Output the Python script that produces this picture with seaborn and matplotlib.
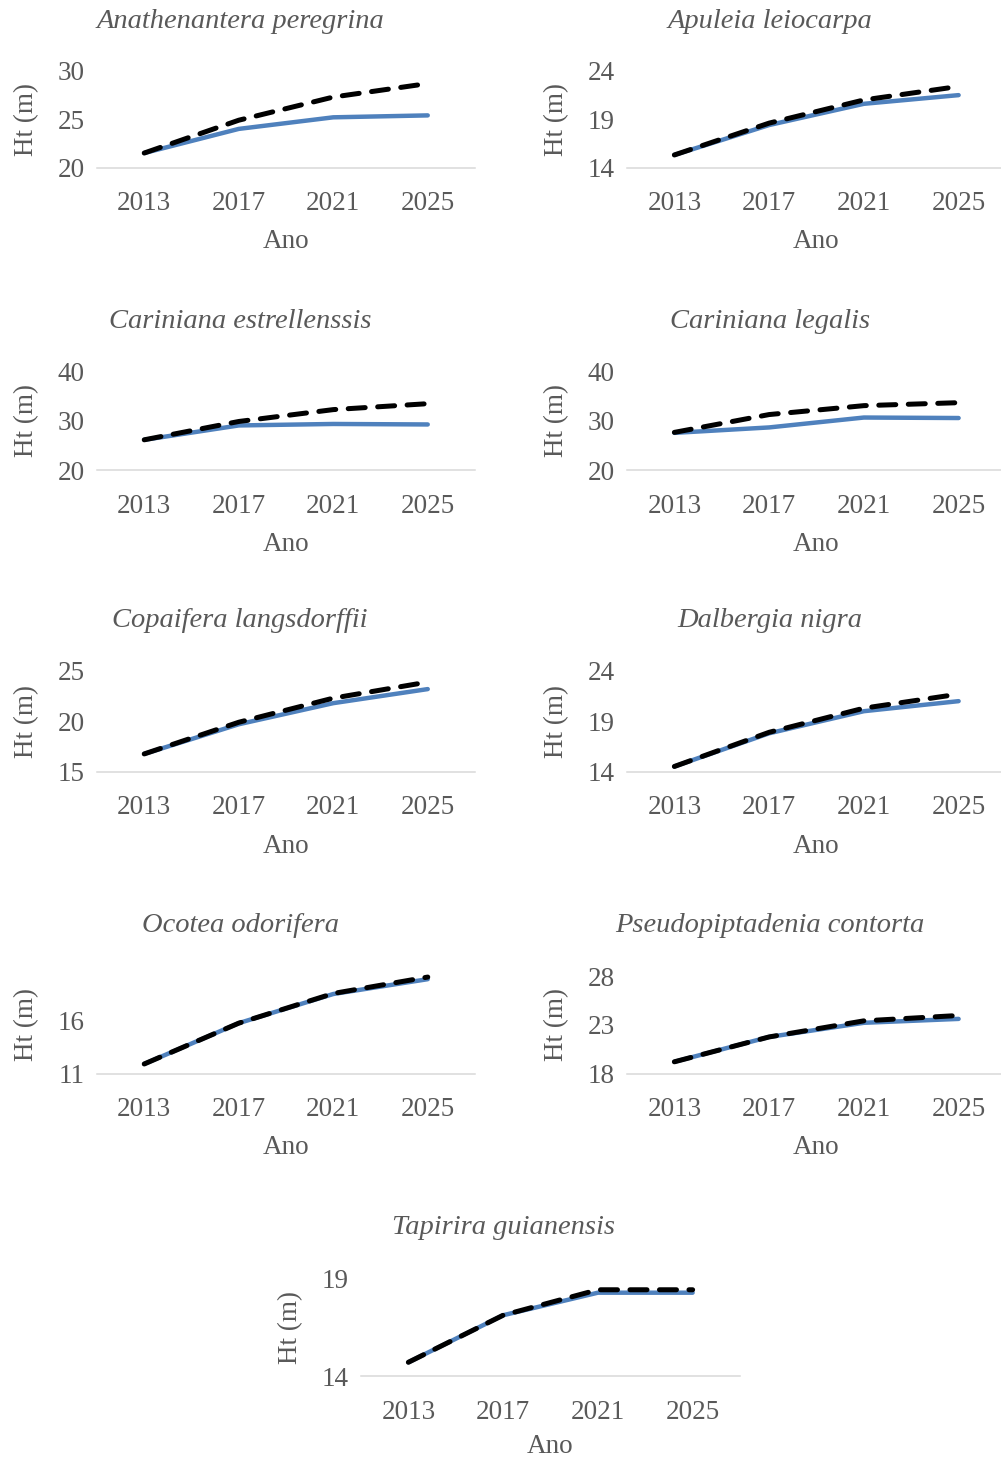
import matplotlib
matplotlib.use("Agg")
import matplotlib.pyplot as plt
import seaborn as sns
import pandas as pd

# ---- data -------------------------------------------------------------
years = ["2013", "2017", "2021", "2025"]

titles = [
    "Anathenantera peregrina", "Apuleia leiocarpa",
    "Cariniana estrellenssis", "Cariniana legalis",
    "Copaifera langsdorffii", "Dalbergia nigra",
    "Ocotea odorifera", "Pseudopiptadenia contorta",
    "Tapirira guianensis",
]

anathenantera_solid = [21.5, 24.0, 25.2, 25.4]
anathenantera_dashed = [21.5, 24.9, 27.3, 28.7]
apuleia_solid = [15.3, 18.4, 20.6, 21.5]
apuleia_dashed = [15.3, 18.6, 21.0, 22.4]
estrellenssis_solid = [26.1, 29.0, 29.3, 29.2]
estrellenssis_dashed = [26.1, 29.8, 32.2, 33.4]
legalis_solid = [27.5, 28.6, 30.6, 30.5]
legalis_dashed = [27.6, 31.2, 33.0, 33.6]
copaifera_solid = [16.75, 19.7, 21.8, 23.2]
copaifera_dashed = [16.75, 19.9, 22.3, 23.9]
dalbergia_solid = [14.5, 17.8, 20.0, 21.0]
dalbergia_dashed = [14.5, 17.9, 20.3, 21.7]
ocotea_solid = [11.9, 15.75, 18.5, 19.9]
ocotea_dashed = [11.9, 15.75, 18.55, 20.1]
pseudopiptadenia_solid = [19.2, 21.75, 23.2, 23.6]
pseudopiptadenia_dashed = [19.2, 21.75, 23.4, 23.95]
tapirira_solid = [14.7, 17.1, 18.25, 18.25]
tapirira_dashed = [14.7, 17.1, 18.4, 18.4]

solid_series = [anathenantera_solid, apuleia_solid, estrellenssis_solid,
                legalis_solid, copaifera_solid, dalbergia_solid,
                ocotea_solid, pseudopiptadenia_solid, tapirira_solid]
dashed_series = [anathenantera_dashed, apuleia_dashed, estrellenssis_dashed,
                 legalis_dashed, copaifera_dashed, dalbergia_dashed,
                 ocotea_dashed, pseudopiptadenia_dashed, tapirira_dashed]

y_limits = [(20, 30), (14, 24), (20, 40), (20, 40), (15, 25),
            (14, 24), (11, 20.2), (18, 28), (14, 19)]
y_ticks = [[20, 25, 30], [14, 19, 24], [20, 30, 40], [20, 30, 40],
           [15, 20, 25], [14, 19, 24], [11, 16], [18, 23, 28], [14, 19]]

# ---- layout (pixel boxes: left, top, right, bottom) -------------------
W, H = 1001, 1458
boxes = [
    (97, 71, 475, 167.5), (627, 71, 1006, 167.5),
    (97, 371, 475, 470), (627, 371, 1006, 470),
    (97, 671, 475, 771.5), (627, 671, 1006, 771.5),
    (97, 976, 475, 1073.5), (627, 976, 1006, 1073.5),
    (361, 1278, 740, 1376),
]
xlabel_offsets = [62, 62, 62, 62, 62, 62, 62, 62, 58]

sns.set_theme(style="white")
plt.rcParams["font.family"] = ["Liberation Serif", "DejaVu Serif"]

TEXT = "#595959"
BLUE = "#4F81BD"
FS = 19.5
FS_TITLE = 20.5

fig = plt.figure(figsize=(W / 100, H / 100), dpi=100)
fig.patch.set_facecolor("white")

for i, (l, t, r, b) in enumerate(boxes):
    w_px, h_px = r - l, b - t
    ax = fig.add_axes([l / W, 1 - b / H, w_px / W, h_px / H])
    df = pd.DataFrame({"Ano": years,
                       "solid": solid_series[i],
                       "dashed": dashed_series[i]})
    sns.lineplot(data=df, x="Ano", y="solid", ax=ax, color=BLUE, lw=3.2,
                 solid_capstyle="round", clip_on=False)
    sns.lineplot(data=df, x="Ano", y="dashed", ax=ax, color="black", lw=3.6,
                 linestyle=(0, (3.4, 2.5)), dash_capstyle="round",
                 clip_on=False)

    ax.set_xlim(-0.5, 3.5)
    ax.set_ylim(*y_limits[i])
    ax.set_yticks(y_ticks[i])
    ax.set_yticklabels([str(v) for v in y_ticks[i]])

    for side in ("top", "left", "right"):
        ax.spines[side].set_visible(False)
    ax.spines["bottom"].set_color("#d9d9d9")
    ax.spines["bottom"].set_linewidth(1.1)
    ax.tick_params(axis="both", length=0, labelsize=FS, colors=TEXT)
    ax.tick_params(axis="x", pad=17)
    ax.tick_params(axis="y", pad=9)
    ax.grid(False)

    ax.set_xlabel("Ano", fontsize=FS, color=TEXT)
    ax.xaxis.set_label_coords(0.5, -xlabel_offsets[i] / h_px)
    ax.set_ylabel("Ht (m)", fontsize=FS, color=TEXT)
    ax.yaxis.set_label_coords(-58 / w_px, 0.5)

    ax.text(143 / w_px, 1 + 50 / h_px, titles[i], transform=ax.transAxes,
            ha="center", va="center", fontsize=FS_TITLE, style="italic",
            color=TEXT)

fig.savefig("out.png", dpi=100, facecolor="white")
